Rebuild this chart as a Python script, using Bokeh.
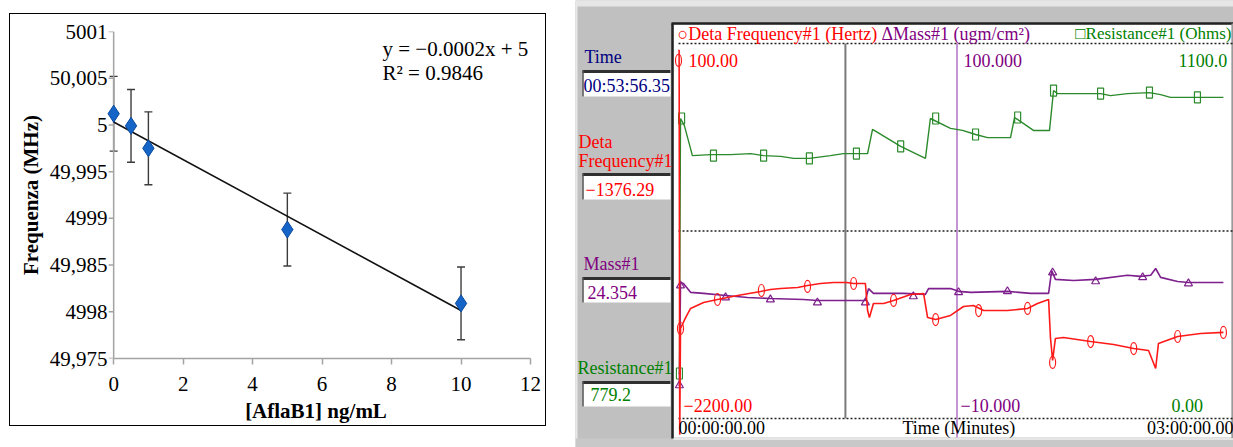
import numpy as np
from bokeh.plotting import figure
from bokeh.layouts import row, column
from bokeh.models import Range1d, FixedTicker, Whisker, TeeHead, ColumnDataSource
from bokeh.core.properties import value
from bokeh.embed import file_html
from bokeh.resources import INLINE

SERIF = "Liberation Serif"

# ================= DATA: left chart (calibration) =================
conc = [0, 0.5, 1, 5, 10]
freq_mhz = [5.00012, 4.99999, 4.99975, 4.99888, 4.99809]
freq_err = [0.0004, 0.00039, 0.00039, 0.00039, 0.00039]
x_ticks = [0, 2, 4, 6, 8, 10, 12]
y_ticks = [4.9975, 4.998, 4.9985, 4.999, 4.9995, 5.0, 5.0005, 5.001]
y_tick_labels = ["49,975", "4998", "49,985", "4999", "49,995", "5", "50,005", "5001"]
x_label = "[AflaB1] ng/mL"
y_label = "Frequenza (MHz)"
eq_label = "y = \u22120.0002x + 5"
r2_label = "R\u00b2 = 0.9846"

# ================= DATA: right chart (QCM trace, minutes) =================
red_t = [0.0, 0.2, 0.4, 0.65, 2.3, 3.9, 8.1, 12.6, 19.1, 26.5, 29.7, 33.0, 38.5, 41.7, 45.9,
         50.1, 54.3, 56.6, 60.4, 61.1, 61.7, 63.0, 66.3, 69.5, 75.0, 79.2, 80.5, 83.1, 87.9,
         92.1, 95.3, 98.6, 106.3, 112.8, 116.0, 119.6, 120.2, 120.9, 121.8, 124.4, 133.2,
         140.6, 147.1, 151.9, 154.2, 155.1, 161.3, 168.7, 176.1]
red_f = [57, 60, -2300, -1648, -1581, -1525, -1488, -1470, -1446, -1421, -1409, -1403, -1397,
         -1384, -1372, -1366, -1366, -1372, -1372, -1538, -1581, -1495, -1495, -1476, -1439,
         -1433, -1581, -1593, -1568, -1513, -1507, -1538, -1538, -1525, -1495, -1470, -1703,
         -1844, -1709, -1703, -1728, -1746, -1771, -1783, -1893, -1740, -1697, -1679, -1672]
red_mk_t = [0.0, 0.65, 12.6, 26.8, 41.7, 56.6, 69.5, 83.1, 97.0, 112.8, 120.9, 133.2, 147.1,
            161.3, 176.1]
red_mk_f = [-4, -1648, -1470, -1415, -1390, -1372, -1476, -1593, -1538, -1525, -1856, -1728,
            -1771, -1697, -1672]

mass_t = [0.0, 0.3, 0.65, 1.6, 3.9, 8.1, 15.2, 22.3, 29.7, 40.4, 44.9, 53.3, 60.4, 61.4, 63.0,
          72.7, 79.8, 80.8, 87.9, 90.5, 94.4, 106.3, 113.8, 119.6, 120.6, 121.8, 127.7, 134.8,
          145.1, 149.3, 152.6, 154.2, 155.8, 161.3, 164.8, 176.1]
mass_m = [-0.3, -0.3, 29.9, 29.6, 27.0, 26.7, 26.1, 25.5, 25.2, 24.9, 24.6, 24.6, 24.6, 28.1,
          26.7, 26.7, 26.4, 28.1, 28.1, 27.3, 27.0, 27.3, 26.7, 26.7, 33.4, 30.8, 30.5, 30.8,
          32.0, 31.7, 32.0, 34.0, 31.4, 30.2, 29.9, 29.9]
mass_mk_t = [0.3, 0.65, 15.2, 29.7, 44.9, 60.4, 75.9, 90.5, 106.3, 120.9, 134.8, 150.0, 164.8]
mass_mk_m = [-0.3, 29.0, 25.5, 24.9, 24.0, 24.0, 25.8, 27.0, 27.3, 32.8, 30.2, 31.4, 29.6]

res_t = [0.0, 0.3, 0.65, 1.9, 4.5, 10.3, 16.8, 23.3, 27.5, 33.0, 37.2, 42.3, 49.1, 53.3, 57.5,
         61.1, 62.7, 71.8, 79.8, 81.4, 87.9, 91.8, 96.0, 99.9, 107.3, 108.6, 114.7, 119.9,
         121.2, 122.5, 130.9, 136.4, 139.6, 145.1, 152.2, 155.8, 159.0, 167.7, 176.1]
res_r = [132, 132, 880, 859, 771, 774, 774, 777, 771, 769, 763, 763, 771, 777, 777, 777, 848,
         798, 763, 880, 851, 845, 833, 824, 824, 883, 845, 845, 962, 953, 953, 953, 947, 953,
         956, 950, 942, 942, 942]
res_mk_t = [0.3, 1.0, 11.3, 27.5, 42.3, 57.5, 71.8, 83.1, 96.0, 109.6, 121.2, 136.4, 152.2, 167.7]
res_mk_r = [132, 880, 771, 771, 763, 777, 798, 880, 833, 883, 962, 953, 956, 942]

T_MIN, T_MAX = 0, 180
F_MIN, F_MAX = -2200, 100
M_MIN, M_MAX = -10, 100
R_MIN, R_MAX = 0, 1100
mid_marker_t = 90
cursor_time = "00:53:56.35"
readout_freq = "\u22121376.29"
readout_mass = "24.354"
readout_res = "779.2"
legend_freq = "\u25cbDeta Frequency#1 (Hertz)"
legend_mass = "\u0394Mass#1 (ugm/cm\u00b2)"
legend_res = "\u25a1Resistance#1 (Ohms)"
time_left = "00:00:00.00"
time_right = "03:00:00.00"
time_title = "Time (Minutes)"

# ================= LEFT FIGURE =================
W_L, W_R, H = 575, 658, 447
BOX_L, BOX_T, BOX_W, BOX_H = 10, 14, 535, 411   # bordered chart box on the page
X_MIN, X_MAX = 0, 12
Y_MIN, Y_MAX = 4.9975, 5.001
X_PAD = 0.35   # room so the x=0 marker is not clipped
L = figure(width=BOX_W, height=BOX_H, x_range=Range1d(X_MIN - X_PAD, X_MAX),
           y_range=Range1d(Y_MIN, Y_MAX),
           output_backend="svg", toolbar_location=None,
           min_border_left=91, min_border_right=15, min_border_top=17, min_border_bottom=67,
           margin=(BOX_T, W_L - BOX_L - BOX_W, H - BOX_T - BOX_H, BOX_L),
           styles={"outline": "1.5px solid black"})
L.grid.visible = False
L.outline_line_color = None
L.background_fill_color = "white"
L.border_fill_color = "white"

AX = "#a3a3a3"
for ax in (L.xaxis[0], L.yaxis[0]):
    ax.axis_line_color = AX
    ax.axis_line_width = 1.5
    ax.major_tick_line_color = AX
    ax.major_tick_line_width = 1.5
    ax.major_tick_in = 0
    ax.minor_tick_line_color = None
    ax.major_label_text_font = SERIF
    ax.major_label_text_font_size = "21px"
    ax.major_label_text_color = "black"
    ax.axis_label_text_font = SERIF
    ax.axis_label_text_font_size = "21px"
    ax.axis_label_text_font_style = "bold"
    ax.axis_label_text_color = "black"
L.xaxis.ticker = FixedTicker(ticks=x_ticks)
L.yaxis.ticker = FixedTicker(ticks=y_ticks)
L.xaxis.bounds = (X_MIN, X_MAX)
L.yaxis.major_label_overrides = dict(zip(y_ticks, y_tick_labels))
L.xaxis.major_tick_out = 6
L.xaxis.major_label_standoff = 12
L.xaxis.axis_label = x_label
L.xaxis.axis_label_standoff = 5
# y axis sits at the frame edge (left of x=0): its line/ticks are redrawn at x=0 below
L.yaxis.axis_line_color = None
L.yaxis.major_tick_line_color = None
L.yaxis.major_tick_out = 0
L.yaxis.major_label_standoff = -6
L.yaxis.axis_label = y_label
L.yaxis.axis_label_standoff = 4
L.segment(x0=[X_MIN], y0=[Y_MIN], x1=[X_MIN], y1=[Y_MAX], line_color=AX, line_width=1.5)
L.ray(x=[X_MIN] * len(y_ticks), y=y_ticks, length=5, length_units="screen", angle=np.pi,
      line_color=AX, line_width=1.5)

src = ColumnDataSource(dict(
    x=conc, y=freq_mhz,
    upper=[f + e for f, e in zip(freq_mhz, freq_err)],
    lower=[f - e for f, e in zip(freq_mhz, freq_err)]))
EB = "#3c3c3c"
wh = Whisker(source=src, base="x", upper="upper", lower="lower", line_color=EB, line_width=1.4,
             upper_head=TeeHead(size=8, line_color=EB, line_width=1.4),
             lower_head=TeeHead(size=8, line_color=EB, line_width=1.4), level="underlay")
L.add_layout(wh)

coef = np.polyfit(conc, freq_mhz, 1)
fx = [min(conc), max(conc)]
L.line(fx, list(np.polyval(coef, fx)), line_color="#111111", line_width=1.6)
L.scatter("x", "y", source=src, marker="diamond", size=17, fill_color="#1565c8",
          line_color="#0b4a9e", line_width=1)

L.text(x=[7.74, 7.74], y=[5.000818, 5.000556], text=[eq_label, r2_label],
       text_font=value(SERIF), text_font_size="21px", text_color="black",
       text_baseline="middle", text_align="left")

# ================= RIGHT FIGURE =================
X0 = W_L
R = figure(width=W_R, height=H, x_range=Range1d(X0, X0 + W_R), y_range=Range1d(H, 0),
           x_axis_location=None, y_axis_location=None, min_border=0,
           toolbar_location=None, output_backend="svg")
R.grid.visible = False
R.outline_line_color = None
R.background_fill_color = "#c0c0c0"
R.border_fill_color = "#c0c0c0"

PX_T0, PX_T1 = 678, 1235      # screen x of t=0 and t=180 min
PY_TOP, PY_BOT = 43, 418      # screen y of scale top / bottom


def yrange(vmin, vmax):
    per = (vmax - vmin) / (PY_BOT - PY_TOP)
    return Range1d(vmin - (H - PY_BOT) * per, vmax + PY_TOP * per)


tper = (T_MAX - T_MIN) / (PX_T1 - PX_T0)
R.extra_x_ranges = {"t": Range1d(T_MIN - (PX_T0 - X0) * tper, T_MAX + (X0 + W_R - PX_T1) * tper)}
R.extra_y_ranges = {"f": yrange(F_MIN, F_MAX), "m": yrange(M_MIN, M_MAX), "r": yrange(R_MIN, R_MAX)}

# window chrome
R.quad(left=[X0], right=[X0 + W_R], top=[0], bottom=[6], fill_color="#e6e6e6", line_color=None)
R.segment(x0=[X0 + 1], y0=[0], x1=[X0 + 1], y1=[H], line_color="#e8e8e8", line_width=2)
R.quad(left=[X0], right=[X0 + W_R], top=[438], bottom=[H], fill_color="#c8c8c8", line_color=None)
R.quad(left=[673], right=[1231], top=[24], bottom=[437], fill_color="white", line_color=None)
R.segment(x0=[671, 672], y0=[23, 23], x1=[1233, 672], y1=[23, 438], line_color="#222222",
          line_width=2.5)
R.segment(x0=[1232], y0=[23], x1=[1232], y1=[438], line_color="#9a9a9a", line_width=2)
R.segment(x0=[673], y0=[438.5], x1=[1233], y1=[438.5], line_color="#f0f0f0", line_width=1.5)

# readout boxes
boxes_top = [70, 173, 277, 381]
boxes_bot = [96, 199, 302, 406]
R.quad(left=[582] * 4, right=[670] * 4, top=boxes_top, bottom=boxes_bot,
       fill_color="white", line_color=None)
R.segment(x0=[582] * 4, y0=[t + 1 for t in boxes_top], x1=[670] * 4, y1=[t + 1 for t in boxes_top],
          line_color="#303030", line_width=3)
R.segment(x0=[582.5] * 4, y0=boxes_top, x1=[582.5] * 4, y1=boxes_bot,
          line_color="#505050", line_width=1.5)

# grid / cursor lines
R.segment(x0=[678] * 3, y0=[PY_TOP, (PY_TOP + PY_BOT) / 2, PY_BOT], x1=[1233] * 3,
          y1=[PY_TOP, (PY_TOP + PY_BOT) / 2, PY_BOT], line_color="#202020", line_width=1.5,
          line_dash="2 2")
hh, mm, ss = cursor_time.split(":")
cursor_t = int(hh) * 60 + int(mm) + float(ss) / 60
R.segment(x0=[cursor_t], y0=[PY_TOP], x1=[cursor_t], y1=[PY_BOT], x_range_name="t",
          line_color="#7a7a7a", line_width=2)
R.segment(x0=[mid_marker_t], y0=[PY_TOP], x1=[mid_marker_t], y1=[437], x_range_name="t",
          line_color="#b57ac8", line_width=1.6)

RED, PUR, GRN, NAVY = "#ff1a1a", "#7d1f8c", "#2b8a2b", "#000080"
RED_T, PUR_T, GRN_T = "#ff0000", "#800080", "#008000"

# traces
R.line(res_t, res_r, x_range_name="t", y_range_name="r", line_color=GRN, line_width=1.4)
R.rect(res_mk_t, res_mk_r, width=6, height=11, width_units="screen", height_units="screen",
       x_range_name="t", y_range_name="r", fill_color=None, line_color=GRN, line_width=1.2)
R.line(mass_t, mass_m, x_range_name="t", y_range_name="m", line_color=PUR, line_width=1.6)
R.scatter(mass_mk_t, mass_mk_m, marker="triangle", size=8, x_range_name="t", y_range_name="m",
          fill_color=None, line_color=PUR, line_width=1.2)
R.line(red_t, red_f, x_range_name="t", y_range_name="f", line_color=RED, line_width=1.6)
R.ellipse(red_mk_t, red_mk_f, width=6, height=12, width_units="screen", height_units="screen",
          x_range_name="t", y_range_name="f", fill_color=None, line_color=RED, line_width=1.2)


def fmt(v, d):
    return f"{v:.{d}f}".replace("-", "\u2212")


# text positions: y is the vertical centre of the capitals/digits
txt_left = dict(
    x=[677, 881,
       688, 963, 1178,
       683, 960, 1171,
       678, 902,
       584, 583, 578, 578, 585, 583, 587, 577, 590],
    y=[33, 33,
       60, 60, 60,
       405, 405, 405,
       427, 427,
       56.5, 85, 141, 160.5, 188.5, 263, 291.5, 367.5, 393.5],
    text=[legend_freq, legend_mass,
          fmt(F_MAX, 2), fmt(M_MAX, 3), fmt(R_MAX, 1),
          fmt(F_MIN, 2), fmt(M_MIN, 3), fmt(R_MIN, 2),
          time_left, time_title,
          "Time", cursor_time, "Deta", "Frequency#1", readout_freq,
          "Mass#1", readout_mass, "Resistance#1", readout_res],
    color=[RED_T, PUR_T, RED_T, PUR_T, GRN_T, RED_T, PUR_T, GRN_T,
           "black", "black",
           NAVY, NAVY, RED_T, RED_T, RED_T, PUR_T, PUR_T, GRN_T, GRN_T],
)
R.text(x="x", y="y", text="text", text_color="color", source=ColumnDataSource(txt_left),
       text_font=value(SERIF), text_font_size="18px", text_baseline="middle",
       text_align="left")
txt_right = dict(x=[1231, 1233], y=[33, 427], text=[legend_res, time_right],
                 color=[GRN_T, "black"], size=["17px", "18px"])
R.text(x="x", y="y", text="text", text_color="color", text_font_size="size",
       source=ColumnDataSource(txt_right), text_font=value(SERIF),
       text_baseline="middle", text_align="right")

page = row(column(L), column(R), spacing=0)
open("out.html", "w").write(file_html(page, INLINE))
